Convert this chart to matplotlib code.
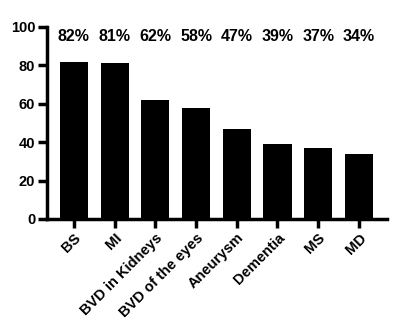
import matplotlib
matplotlib.use('Agg')
import matplotlib.pyplot as plt

categories = ['BS', 'MI', 'BVD in Kidneys', 'BVD of the eyes', 'Aneurysm',
              'Dementia', 'MS', 'MD']
values = [82, 81, 62, 58, 47, 39, 37, 34]
pct_labels = ['82%', '81%', '62%', '58%', '47%', '39%', '37%', '34%']
yticks = [0, 20, 40, 60, 80, 100]

plt.rcParams['font.family'] = ['Liberation Sans', 'DejaVu Sans']
plt.rcParams['font.weight'] = 'bold'

fig = plt.figure(figsize=(3.97, 3.35), dpi=100)
ax = fig.add_axes([47 / 397, (335 - 219) / 335, 340 / 397, 192 / 335])

x = list(range(len(categories)))
ax.bar(x, values, width=0.69, color='black')

# percentages above the bars, all on one row
for xi, lab in zip(x, pct_labels):
    ax.text(xi, 95, lab, ha='center', va='center', fontsize=11.5, fontweight='bold')

ax.set_xlim(-0.66, 7.69)
ax.set_ylim(0, 100)
ax.set_yticks(yticks)
ax.set_xticks(x)
ax.set_xticklabels(categories, rotation=45, ha='right', rotation_mode='anchor',
                   fontsize=10.5, fontweight='bold')
for lab in ax.get_yticklabels():
    lab.set_fontsize(10.5)
    lab.set_fontweight('bold')

for side in ['top', 'right']:
    ax.spines[side].set_visible(False)
for side in ['left', 'bottom']:
    ax.spines[side].set_linewidth(2.5)
ax.tick_params(axis='both', width=2.5, length=6.5, pad=2)

fig.savefig('out.png', dpi=100)
